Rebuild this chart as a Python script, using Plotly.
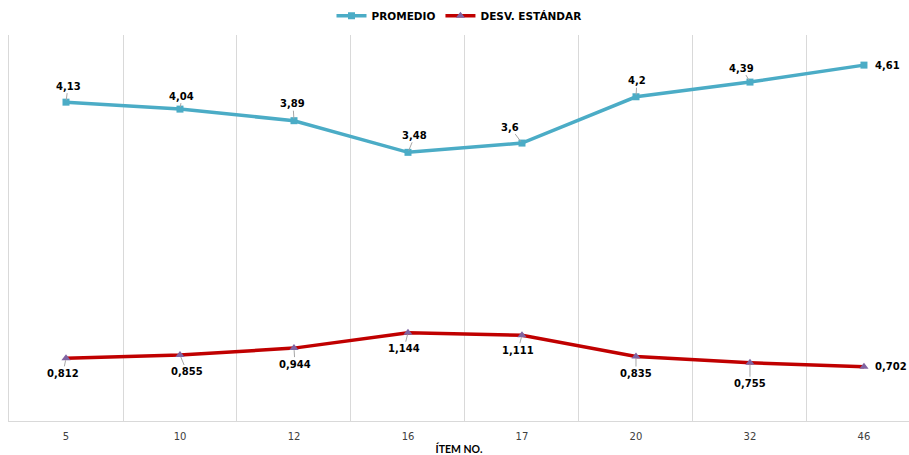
import plotly.graph_objects as go

items = ["5", "10", "12", "16", "17", "20", "32", "46"]
promedio = [4.13, 4.04, 3.89, 3.48, 3.6, 4.2, 4.39, 4.61]
desv = [0.812, 0.855, 0.944, 1.144, 1.111, 0.835, 0.755, 0.702]

prom_off = [(2, -16), (2, -13), (-1, -17), (7, -17), (-12, -16), (1, -16), (-8, -14), None]
desv_off = [(-3, 15), (7, 17), (1, 16), (-4, 16), (-4, 15), (0, 17), (0, 21), None]

BLUE = "#4BACC6"
RED = "#C00000"
PURPLE = "#8064A2"

fig = go.Figure()
fig.add_trace(go.Scatter(
    x=items, y=promedio, mode="lines+markers", name="<b>PROMEDIO</b>",
    line=dict(color=BLUE, width=3.5),
    marker=dict(symbol="square", size=7, color=BLUE),
))
fig.add_trace(go.Scatter(
    x=items, y=desv, mode="lines+markers", name="<b>DESV. ESTÁNDAR</b>",
    line=dict(color=RED, width=3.5),
    marker=dict(symbol="triangle-up", size=8, color=PURPLE),
))

def fmt(v):
    return "<b>" + str(v).replace(".", ",") + "</b>"

annos = []
for vals, offs in ((promedio, prom_off), (desv, desv_off)):
    for i, (v, off) in enumerate(zip(vals, offs)):
        if off is None:
            annos.append(dict(x=i, y=v, text=fmt(v), showarrow=False,
                              xanchor="left", xshift=9, yshift=0,
                              font=dict(family="DejaVu Sans", size=10, color="#000000")))
        else:
            annos.append(dict(x=i, y=v, text=fmt(v), showarrow=True,
                              ax=off[0], ay=off[1], arrowhead=0, arrowwidth=1,
                              arrowcolor="#A6A6A6", standoff=2,
                              font=dict(family="DejaVu Sans", size=10, color="#000000")))

fig.update_layout(
    width=909, height=455,
    margin=dict(l=9, r=0, t=35, b=34.4),
    paper_bgcolor="white", plot_bgcolor="white",
    showlegend=True,
    legend=dict(orientation="h", x=0.5, xanchor="center", y=1.05, yanchor="middle",
                font=dict(family="DejaVu Sans", size=10.5, color="#000000"),
                itemwidth=30, tracegroupgap=0),
    annotations=annos,
    xaxis=dict(type="category", range=[-0.5, 7.395], tickson="boundaries",
               showgrid=True, gridcolor="#D9D9D9", gridwidth=1,
               showline=True, linecolor="#D9D9D9", linewidth=1,
               ticks="", ticklabelstandoff=6,
               tickfont=dict(family="DejaVu Sans", size=10, color="#404040"),
               title=dict(text="<b>ÍTEM NO.</b>", standoff=6,
                          font=dict(family="Lato", size=10.5, color="#000000")),
               zeroline=False, fixedrange=True),
    yaxis=dict(range=[0, 5], showgrid=False, showticklabels=False, zeroline=False,
               showline=True, linecolor="#D9D9D9", linewidth=1, ticks=""),
)

fig.write_html("out.html")
